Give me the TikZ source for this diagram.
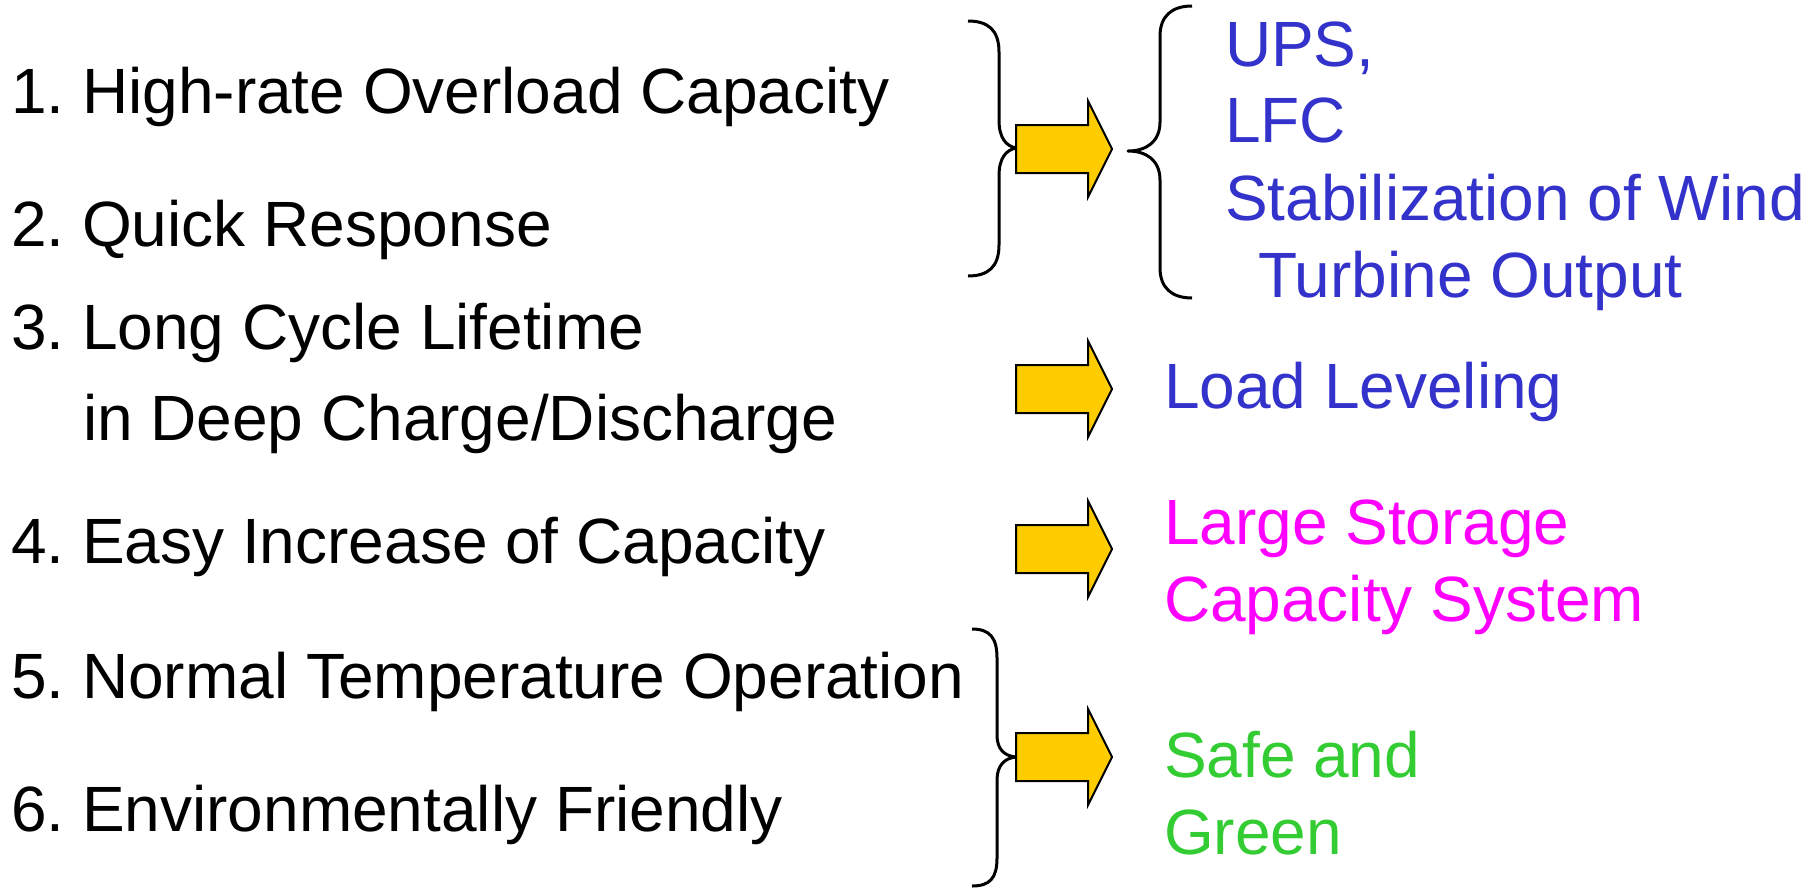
\documentclass[tikz,border=0pt]{standalone}
\usepackage{fontspec}
\setmainfont{Liberation Sans}
\frenchspacing
\definecolor{useblue}{HTML}{3333CC}
\definecolor{usemagenta}{HTML}{FF00FF}
\definecolor{usegreen}{HTML}{33CC33}
\definecolor{arrowyellow}{HTML}{FFCC00}
\begin{document}
\begin{tikzpicture}[x=0.5pt,y=-0.5pt,
  txt/.style={anchor=base west,inner sep=0pt,outer sep=0pt,font=\fontsize{32pt}{38pt}\selectfont},
  feat/.style={txt,text=black},
  appl/.style={txt,text=useblue},
  stor/.style={txt,text=usemagenta},
  safe/.style={txt,text=usegreen},
  bracestyle/.style={draw=black,line width=1.5pt,line join=round},
  blockarrow/.pic={\draw[fill=arrowyellow,draw=black,line width=1pt,line join=miter]
    (0,-24) -- (72,-24) -- (72,-48) -- (96,0) -- (72,48) -- (72,24) -- (0,24) -- cycle;}
]
\useasboundingbox (0,0) rectangle (1814,889);

% feature list
\node[feat] (f1)  at (11,113) {1. High-rate Overload Capacity};
\node[feat] (f2)  at (11,246) {2. Quick Response};
\node[feat] (f3)  at (11,349) {3. Long Cycle Lifetime};
\node[feat] (f3b) at (83,440) {in Deep Charge/Discharge};
\node[feat] (f4)  at (11,563) {4. Easy Increase of Capacity};
\node[feat] (f5)  at (11,698) {5. Normal Temperature Operation};
\node[feat] (f6)  at (11,831) {6. Environmentally Friendly};

% braces grouping features
\draw[bracestyle] (968,21) .. controls (988,21) and (999,30) .. (999,52) -- (999,120)
  .. controls (999,138) and (1006,146) .. (1016,148)
  .. controls (1006,150) and (999,158) .. (999,176) -- (999,245)
  .. controls (999,267) and (988,276) .. (968,276);
\draw[bracestyle] (972,629) .. controls (990,629) and (997,638) .. (997,658) -- (997,735)
  .. controls (997,750) and (1005,756) .. (1016,757)
  .. controls (1005,758) and (997,765) .. (997,780) -- (997,858)
  .. controls (997,878) and (990,886) .. (972,886);

% arrows
\pic (a1) at (1016,149) {blockarrow};
\pic (a2) at (1016,389) {blockarrow};
\pic (a3) at (1016,549) {blockarrow};
\pic (a4) at (1016,757) {blockarrow};

% brace grouping applications
\draw[bracestyle] (1192,6) .. controls (1172,6) and (1160,16) .. (1160,36) -- (1160,122)
  .. controls (1160,142) and (1146,151) .. (1128,151)
  .. controls (1146,151) and (1160,160) .. (1160,180) -- (1160,268)
  .. controls (1160,288) and (1172,298) .. (1192,298);

% applications
\node[appl] (r1) at (1225,66)  {UPS,};
\node[appl] (r2) at (1225,142) {LFC};
\node[appl] (r3) at (1225,220) {Stabilization of Wind};
\node[appl] (r4) at (1258,297) {Turbine Output};
\node[appl] (r5) at (1164,408) {Load Leveling};
\node[stor] (r6) at (1164,544) {Large Storage};
\node[stor] (r7) at (1164,621) {Capacity System};
\node[safe] (r8) at (1164,777) {Safe and};
\node[safe] (r9) at (1164,854) {Green};
\end{tikzpicture}
\end{document}
